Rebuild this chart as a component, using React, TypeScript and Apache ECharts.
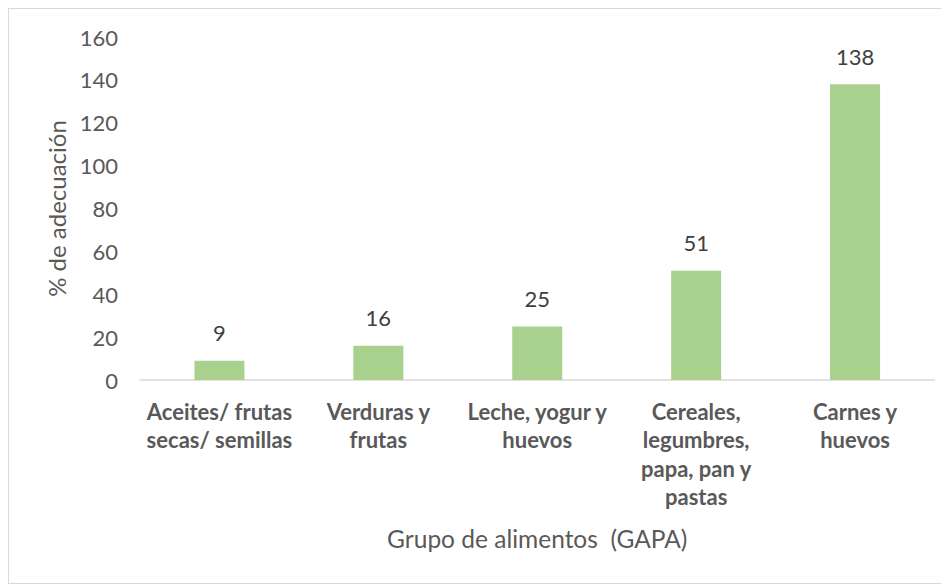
import React, { useEffect, useRef } from "react";
import * as echarts from "echarts";

const categories = [
  "Aceites/ frutas\nsecas/ semillas",
  "Verduras y\nfrutas",
  "Leche, yogur y\nhuevos",
  "Cereales,\nlegumbres,\npapa, pan y\npastas",
  "Carnes y\nhuevos",
];
const values = [9, 16, 25, 51, 138];
const yTicks = { min: 0, max: 160, interval: 20 };
const xTitle = "Grupo de alimentos\u00a0\u00a0(GAPA)";
const yTitle = "% de adecuación";

export default function App() {
  const ref = useRef<HTMLDivElement>(null);
  useEffect(() => {
    if (!ref.current) return;
    const chart = echarts.init(ref.current, null, { renderer: "svg" });
    const font = "Lato, 'Open Sans', sans-serif";
    chart.setOption({
      animation: false,
      backgroundColor: "#ffffff",
      grid: { left: 131, right: 12.5, top: 28, bottom: 203, containLabel: false },
      xAxis: {
        type: "category",
        data: categories,
        name: xTitle,
        nameLocation: "middle",
        nameGap: 146,
        nameTextStyle: { fontFamily: font, fontSize: 24.5, color: "#595959" },
        axisLine: { show: true, lineStyle: { color: "#d9d9d9", width: 1.5 } },
        axisTick: { show: false },
        axisLabel: {
          interval: 0,
          margin: 17,
          fontFamily: font,
          fontSize: 22,
          fontWeight: "bold",
          color: "#595959",
          lineHeight: 28.5,
        },
      },
      yAxis: {
        type: "value",
        min: yTicks.min,
        max: yTicks.max,
        interval: yTicks.interval,
        name: yTitle,
        nameLocation: "middle",
        nameGap: 72,
        nameTextStyle: { fontFamily: font, fontSize: 24, color: "#595959" },
        axisLine: { show: false },
        axisTick: { show: false },
        splitLine: { show: false },
        axisLabel: { margin: 22, fontFamily: font, fontSize: 22, color: "#595959" },
      },
      series: [
        {
          type: "bar",
          data: values,
          barWidth: 50,
          itemStyle: { color: "#A9D18E" },
          label: {
            show: true,
            position: "top",
            distance: 17,
            fontFamily: font,
            fontSize: 22,
            color: "#404040",
          },
        },
      ],
    });
    return () => chart.dispose();
  }, []);
  return (
    <div
      style={{
        width: 940,
        height: 576,
        border: "1px solid #d9d9d9",
        boxSizing: "border-box",
        background: "#fff",
      }}
    >
      <div ref={ref} style={{ width: 938, height: 574 }} />
    </div>
  );
}
